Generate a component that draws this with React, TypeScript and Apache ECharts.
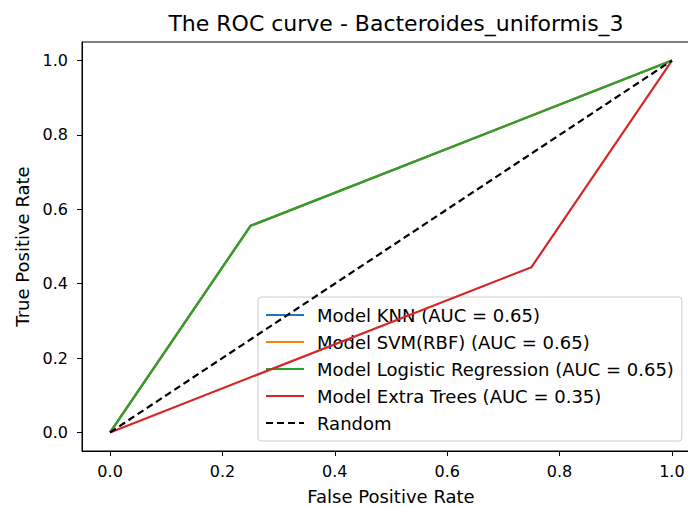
import React, { useEffect, useRef } from "react";
import * as echarts from "echarts";

const titleText = "The ROC curve - Bacteroides_uniformis_3";
const xTicks = [0, 0.2, 0.4, 0.6, 0.8, 1.0];
const yTicks = [0, 0.2, 0.4, 0.6, 0.8, 1.0];
const knnFpr = [0, 0.25, 1];
const knnTpr = [0, 0.5556, 1];
const svmFpr = [0, 0.25, 1];
const svmTpr = [0, 0.5556, 1];
const lrFpr = [0, 0.25, 1];
const lrTpr = [0, 0.5556, 1];
const etFpr = [0, 0.75, 1];
const etTpr = [0, 0.4444, 1];
const randFpr = [0, 1];
const randTpr = [0, 1];
const names = [
  "Model KNN (AUC = 0.65)",
  "Model SVM(RBF) (AUC = 0.65)",
  "Model Logistic Regression (AUC = 0.65)",
  "Model Extra Trees (AUC = 0.35)",
  "Random",
];
const colors = ["#1f77b4", "#ff7f0e", "#2ca02c", "#d62728", "#000000"];

const zip = (a: number[], b: number[]) => a.map((v, i) => [v, b[i]]);

export default function App() {
  const ref = useRef<HTMLDivElement>(null);
  useEffect(() => {
    document.body.style.margin = "0";
    const chart = echarts.init(ref.current!, null, { renderer: "svg" });
    const font = "DejaVu Sans";
    const datasets = [
      zip(knnFpr, knnTpr),
      zip(svmFpr, svmTpr),
      zip(lrFpr, lrTpr),
      zip(etFpr, etTpr),
      zip(randFpr, randTpr),
    ];
    chart.setOption({
      animation: false,
      title: {
        text: titleText,
        left: 391,
        textAlign: "center",
        top: 7,
        textStyle: { fontFamily: font, fontSize: 22, fontWeight: "normal", color: "#000" },
      },
      grid: {
        left: 82,
        top: 42,
        width: 618,
        height: 409,
        outerBoundsMode: "none",
        containLabel: false,
        show: true,
        borderColor: "#000",
        borderWidth: 1,
        backgroundColor: "#fff",
      },
      legend: {
        orient: "vertical",
        left: 258,
        top: 297,
        data: names,
        itemWidth: 38,
        itemHeight: 14,
        itemGap: 9,
        padding: [9, 8, 9, 7],
        backgroundColor: "rgba(255,255,255,0.8)",
        borderColor: "#cccccc",
        borderWidth: 1,
        borderRadius: 3,
        itemStyle: { opacity: 0 },
        textStyle: {
          fontFamily: font,
          fontSize: 18,
          lineHeight: 18,
          color: "#000",
          padding: [0, 0, 0, 8],
        },
      },
      xAxis: {
        type: "value",
        min: -0.05,
        max: 1.05,
        name: "False Positive Rate",
        nameLocation: "middle",
        nameGap: 36,
        nameTextStyle: { fontFamily: font, fontSize: 18, color: "#000" },
        axisLine: { show: true, onZero: false, lineStyle: { color: "#000" } },
        axisTick: { show: true, length: 5, customValues: xTicks, lineStyle: { color: "#000" } },
        axisLabel: {
          customValues: xTicks,
          fontFamily: font,
          fontSize: 16,
          color: "#000",
          margin: 12,
          formatter: (v: number) => v.toFixed(1),
        },
        splitLine: { show: false },
      },
      yAxis: {
        type: "value",
        min: -0.05,
        max: 1.05,
        name: "True Positive Rate",
        nameLocation: "middle",
        nameGap: 48,
        nameTextStyle: { fontFamily: font, fontSize: 18, color: "#000" },
        axisLine: { show: true, onZero: false, lineStyle: { color: "#000" } },
        axisTick: { show: true, length: 5, customValues: yTicks, lineStyle: { color: "#000" } },
        axisLabel: {
          customValues: yTicks,
          fontFamily: font,
          fontSize: 16,
          color: "#000",
          margin: 14,
          formatter: (v: number) => v.toFixed(1),
        },
        splitLine: { show: false },
      },
      series: names.map((n, i) => ({
        name: n,
        type: "line",
        data: datasets[i],
        symbol: "none",
        color: colors[i],
        lineStyle: {
          color: colors[i],
          width: 2.2,
          type: i === 4 ? [7, 4] : "solid",
        },
        z: 2 + i,
      })),
    });
    return () => chart.dispose();
  }, []);
  return <div ref={ref} style={{ width: 688, height: 507 }} />;
}
